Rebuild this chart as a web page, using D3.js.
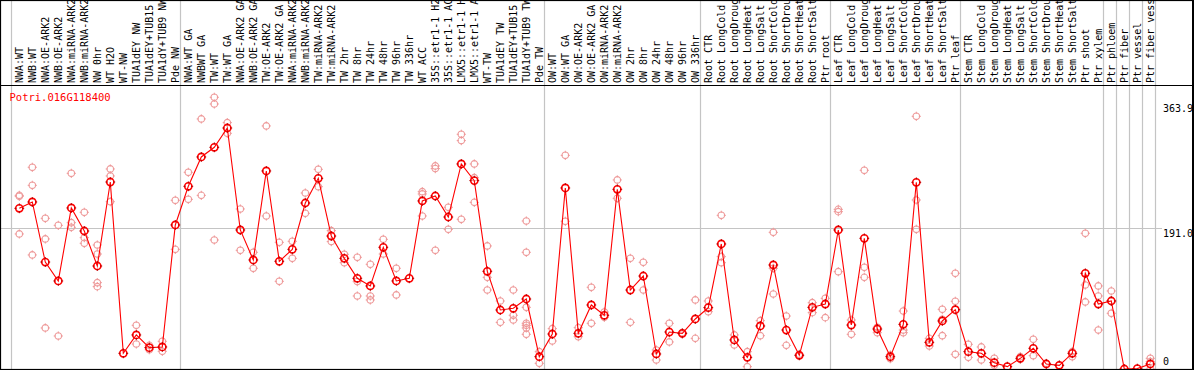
<!DOCTYPE html>
<html><head><meta charset="utf-8">
<script src="https://cdn.jsdelivr.net/npm/d3@7"></script>
<style>
html,body{margin:0;padding:0;background:#fff;}
svg{display:block;}
text{font-family:"DejaVu Sans Mono","Liberation Mono",monospace;}
</style></head>
<body>
<svg id="chart" width="1194" height="370"></svg>
<script>
const title = "Potri.016G118400";
const categories = [
"NWA:WT","NWB:WT","NWA:OE-ARK2","NWB:OE-ARK2","NWA:miRNA-ARK2","NWB:miRNA-ARK2","NW 0hr","WT H2O","WT-NW","TUA1dEY NW","TUA1dEY+TUB15","TUA1dY+TUB9 NW","Pde NW",
"NWA:WT GA","NWBWT GA","TW:WT","TW:WT GA","NWA:OE-ARK2 GA","NWB:OE-ARK2 GA","TW:OE-ARK2","TW:OE-ARK2 GA","NWA:miRNA-ARK2","NWB:miRNA-ARK2","TW:miRNA-ARK2","TW:miRNA-ARK2","TW 2hr","TW 8hr","TW 24hr","TW 48hr","TW 96hr","TW 336hr","WT ACC","35S::etr1-1 H2","35S::etr1-1 AC","LMX5::etr1-1 H","LMX5::etr1-1 A","WT-TW","TUA1dEY TW","TUA1dEY+TUB15","TUA1dY+TUB9 TW","Pde TW",
"OW:WT","OW:WT GA","OW:OE-ARK2","OW:OE-ARK2 GA","OW:miRNA-ARK2","OW:miRNA-ARK2","OW 2hr","OW 8hr","OW 24hr","OW 48hr","OW 96hr","OW 336hr",
"Root CTR","Root LongCold","Root LongDroug","Root LongHeat","Root LongSalt","Root ShortCold","Root ShortDrou","Root ShortHeat","Root ShortSalt","Ptr root",
"Leaf CTR","Leaf LongCold","Leaf LongDroug","Leaf LongHeat","Leaf LongSalt","Leaf ShortCold","Leaf ShortDrou","Leaf ShortHeat","Leaf ShortSalt","Ptr leaf",
"Stem CTR","Stem LongCold","Stem LongDroug","Stem LongHeat","Stem LongSalt","Stem ShortCold","Stem ShortDrou","Stem ShortHeat","Stem ShortSalt","Ptr shoot","Ptr xylem",
"Ptr phloem","Ptr fiber","Ptr vessel","Ptr fiber vess"
];
const groupSizes = [13, 28, 12, 10, 10, 11, 1, 1, 1, 1];
const means = [
218.1,226.7,145.2,119.5,218.6,187.3,139.8,253.8,21.3,46.2,29.0,29.9,195.5,
248.0,287.8,300.9,327.1,188.7,148.0,268.8,146.2,162.4,225.3,258.8,180.5,150.2,123.1,112.7,165.2,119.5,123.1,228.1,234.8,206.3,278.3,255.7,132.6,80.1,82.4,95.0,16.7,
47.5,245.7,48.4,86.9,72.9,243.9,107.2,126.2,20.4,50.2,48.4,67.9,
83.3,169.7,39.4,15.8,58.4,141.2,52.9,18.6,83.7,88.2,
188.7,59.7,177.4,54.3,16.7,60.6,253.4,36.2,65.2,80.5,
23.5,21.3,8.6,3.2,14.5,28.1,6.8,5.0,21.3,129.9,88.2,
92.3,0,0.5,6.8
];
const replicates = [
[235.7,234.4,183.3],[273.8,249.3,154.8],[204.5,176.5,55.7],[195.0,44.8],[265.6,198.6,192.3],[212.7,178.3,170.6],[168.3,156.1,117.2,111.8],[271.5,262.0,227.1],[],[59.3,33.9],[32.1,26.2],[37.6,24.0],[229.0,162.4],
[267.0,230.3],[339.4,235.7],[368.8,359.7,175.1],[334.4,319.9],[217.2,161.1],[158.4,136.7],[329.9,207.7],[171.9,119.0],[173.3,150.2],[238.9,211.3],[271.0,247.5],[187.8,172.9],[155.7,144.3],[151.6,118.6,99.1],[142.1,99.1,93.7],[176.0,156.1],[136.7,100.5],[],[240.7,237.6,207.7],[275.6,272.0,161.1],[219.5,189.6],[318.6,310.0,203.2],[278.3,259.7,226.2],[167.0,124.4,107.2],[92.3,63.3],[107.2,72.9,66.5],[200.9,158.4,83.7,62.0,59.3,55.7,47.1],[23.5,7.7],
[54.8,38.0],[290.0,200.5],[56.1,43.9],[110.9,62.0],[77.4,70.1],[256.6,231.7],[150.2,63.3],[144.8,107.2],[25.8,12.2],[62.0,36.7],[49.3,47.5],[93.7,41.6],
[92.3,77.8],[208.6,152.5,144.3],[46.2,32.6],[23.5,3.2],[65.6,45.2],[185.5,136.7,101.8],[71.9,32.1],[19.9,18.1],[90.0,76.5],[95.9,69.7],
[216.7,213.6,132.1],[66.5,47.1],[269.7,138.0,124.4],[56.6,49.3],[19.0,14.0],[78.7,52.9,49.3],[343.0,229.4,189.6],[41.6,31.2],[81.0,67.4,45.2],[129.9,91.9,19.9],
[33.5,15.8],[29.9,12.2],[14.5,5.0],[],[16.7,13.1],[40.3,18.1],[7.7],[5.0],[23.5,16.7],[184.2,114.0,91.0],[112.7,99.1,52.9],
[105.9,92.8,75.6],[],[],[14.5,10.0,0]
];
const yTicks = [363.9, 191.0, 0];

const W = 1194, H = 370;
const plotTop = 85, plotBottom = 369;
const svg = d3.select("#chart");

svg.append("rect").attr("x",0).attr("y",0).attr("width",W).attr("height",H).attr("fill","#fff");

const idx = d3.range(categories.length);
const x = d3.scaleBand().domain(idx).range([10.8, 10.8 + 13 * categories.length]).paddingInner(0).paddingOuter(0);
const px = i => x(i) + 8.5;
const y = d3.scaleLinear().domain([0, 363.9]).range([369, 100.9]);

const starts = [];
let acc = 0;
groupSizes.forEach(s => { starts.push(acc); acc += s; });
const boundaries = starts.map(s => x(s)).concat([x(categories.length - 1) + x.bandwidth()]);

const grid = svg.append("g");
grid.selectAll("line.v").data(boundaries).join("line")
  .attr("x1", d => Math.round(d) + 0.5).attr("x2", d => Math.round(d) + 0.5)
  .attr("y1", 0).attr("y2", plotBottom)
  .attr("stroke", "#c4c4c4").attr("stroke-width", 1.2);
grid.append("line")
  .attr("x1", 0).attr("x2", 1162)
  .attr("y1", Math.round(y(191.0)) + 0.5).attr("y2", Math.round(y(191.0)) + 0.5)
  .attr("stroke", "#c4c4c4").attr("stroke-width", 1.2);

svg.append("g").selectAll("text").data(categories).join("text")
  .attr("transform", (d, i) => `translate(${px(i) + 3.2},83) rotate(-90)`)
  .attr("font-size", 10).attr("fill", "#000")
  .text(d => d);

svg.append("line").attr("x1",0).attr("x2",W).attr("y1",plotTop+0.5).attr("y2",plotTop+0.5).attr("stroke","#000").attr("stroke-width",1.2);
svg.append("rect").attr("x",0.5).attr("y",0.5).attr("width",W-1.5).attr("height",plotBottom).attr("fill","none").attr("stroke","#000").attr("stroke-width",1.2);
svg.append("line").attr("x1",W-1).attr("x2",W-1).attr("y1",0).attr("y2",H).attr("stroke","#000").attr("stroke-width",2);

svg.append("clipPath").attr("id","plotclip").append("rect")
  .attr("x", 1).attr("y", plotTop + 1).attr("width", W - 3).attr("height", plotBottom - plotTop - 1);
const plot = svg.append("g").attr("clip-path", "url(#plotclip)");

function marker(g, r, color, tickColor, sw) {
  g.append("circle").attr("r", r).attr("fill", "none").attr("stroke", color).attr("stroke-width", sw);
  const t = r + 1.3;
  [[0,-t,0,-r+0.8],[0,t,0,r-0.8],[-t,0,-r+0.8,0],[t,0,r-0.8,0]].forEach(s =>
    g.append("line").attr("x1",s[0]).attr("y1",s[1]).attr("x2",s[2]).attr("y2",s[3]).attr("stroke",tickColor).attr("stroke-width",1));
}

const repPts = [];
replicates.forEach((arr, i) => arr.forEach(v => repPts.push([i, v])));
plot.append("g").selectAll("g").data(repPts).join("g")
  .attr("transform", d => `translate(${px(d[0])},${y(d[1])})`)
  .each(function() { marker(d3.select(this), 3.3, "#ee9a9a", "#ee9a9a", 1.1); });

plot.append("path").datum(means)
  .attr("fill", "none").attr("stroke", "#ff0000").attr("stroke-width", 1.1)
  .attr("d", d3.line().x((d, i) => px(i)).y(d => y(d)));

plot.append("g").selectAll("g").data(means).join("g")
  .attr("transform", (d, i) => `translate(${px(i)},${y(d)})`)
  .each(function() { marker(d3.select(this), 3.6, "#ff0000", "#b00000", 1.6); });

svg.append("text").attr("x", 9.5).attr("y", 100.5).attr("font-size", 10.5).attr("fill", "#ff0000").text(title);

const tickOffset = {363.9: 11, 191: 8.4, 0: -4};
svg.append("g").selectAll("text").data(yTicks).join("text")
  .attr("x", 1163).attr("y", d => y(d) + tickOffset[d])
  .attr("font-size", 10).attr("fill", "#000")
  .text(d => d === 0 ? "0" : d3.format(".1f")(d));
</script>
</body></html>
